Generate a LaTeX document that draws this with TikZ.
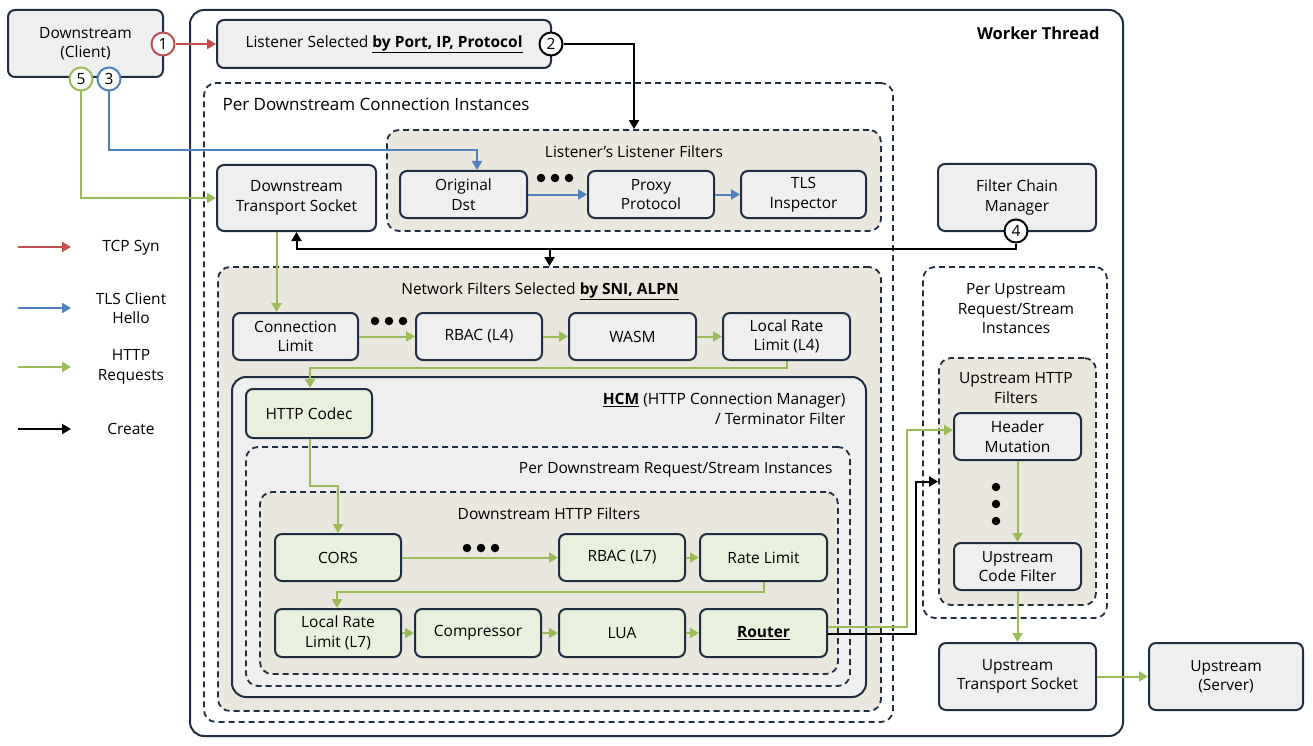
\documentclass[tikz,border=0pt]{standalone}
\usepackage{fontspec}
\setmainfont{Open Sans}
\usetikzlibrary{arrows.meta,calc}
\definecolor{navy}{HTML}{1F2E40}
\definecolor{beige}{HTML}{EAE7DE}
\definecolor{lgray}{HTML}{EFEFEF}
\definecolor{lgreen}{HTML}{EAF0DE}
\definecolor{cred}{HTML}{C0504D}
\definecolor{cblue}{HTML}{4F81BD}
\definecolor{cgreen}{HTML}{9BBB59}
\newcommand\mybox[7]{\node[#1, minimum width={#5-#3}, minimum height={#6-#4}] (#2) at ({(#3+#5)/2},{(#4+#6)/2}) {#7};}
\newcommand\bu[1]{\textbf{\underline{#1}}}
\begin{document}
\begin{tikzpicture}[x=1pt,y=-1pt,
  font=\fontsize{15.5}{19.5}\selectfont,
  box/.style={draw=navy, line width=2pt, rounded corners=7pt, fill=lgray, align=center, inner sep=0pt},
  gbox/.style={box, fill=lgreen},
  cont/.style={draw=navy, line width=1.8pt, dash pattern=on 6pt off 4pt, rounded corners=12pt, inner sep=0pt},
  solidcont/.style={draw=navy, line width=2pt, rounded corners=14pt, inner sep=0pt},
  circ/.style={circle, draw, line width=2pt, fill=white, minimum size=23pt, inner sep=0pt},
  arr/.style={line width=2pt, -{Triangle[length=9pt,width=10pt]}},
  redarr/.style={arr, draw=cred},
  bluearr/.style={arr, draw=cblue},
  grarr/.style={arr, draw=cgreen},
  blkarr/.style={arr, draw=black},
  dot/.style={circle, fill=black, minimum size=8.5pt, inner sep=0pt}
]
\useasboundingbox (0,0) rectangle (1313,746);

% containers
\mybox{solidcont}{wt}{190}{10}{1123}{736}{}
\node[anchor=east, font=\fontsize{16.5}{18}\selectfont\bfseries] (wtl) at (1103,33) {Worker Thread};
\mybox{cont}{pdc}{204}{83}{893}{722}{}
\node[anchor=west, font=\fontsize{17}{20}\selectfont] (pdcl) at (219,104) {Per Downstream Connection Instances};
\mybox{cont, fill=beige}{llf}{387}{130}{881}{231}{}
\node (llfl) at (634,152) {Listener's Listener Filters};
\mybox{cont, fill=beige}{nf}{218}{267}{881}{711}{}
\node (nfl) at (540,291) {Network Filters Selected \bu{by SNI, ALPN}};
\mybox{solidcont, fill=lgray}{hcm}{232}{377}{866}{697}{}
\node[anchor=east, align=right] (hcml) at (849,409) {\bu{HCM} (HTTP Connection Manager)\\/ Terminator Filter};
\mybox{cont, fill=lgray}{pdr}{246}{447}{850}{686}{}
\node[anchor=east] (pdrl) at (836,470) {Per Downstream Request/Stream Instances};
\mybox{cont, fill=beige}{dhf}{260}{492}{838}{674}{}
\node (dhfl) at (549,514) {Downstream HTTP Filters};
\mybox{cont}{pur}{923}{267}{1107}{618}{}
\node[align=center] (purl) at (1016,309) {Per Upstream\\Request/Stream\\Instances};
\mybox{cont, fill=beige}{uhf}{939}{358}{1096}{605}{}
\node[align=center] (uhfl) at (1016,388) {Upstream HTTP\\Filters};

% boxes
\mybox{box}{ds}{8}{10}{163}{77}{Downstream\\(Client)}
\mybox{box}{ls}{217}{20}{551}{68}{Listener Selected \bu{by Port, IP, Protocol}}
\mybox{box}{od}{400}{171}{527}{218}{Original\\Dst}
\mybox{box}{pp}{588}{171}{714}{218}{Proxy\\Protocol}
\mybox{box}{tls}{741}{171}{866}{218}{TLS\\Inspector}
\mybox{box}{dts}{217}{165}{376}{231}{Downstream\\Transport Socket}
\mybox{box}{fcm}{938}{164}{1096}{231}{Filter Chain\\Manager}
\mybox{box}{cl}{233}{313}{358}{360}{Connection\\Limit}
\mybox{box}{rbac4}{416}{313}{542}{360}{RBAC (L4)}
\mybox{box}{wasm}{569}{313}{696}{360}{WASM}
\mybox{box}{lrl4}{723}{313}{850}{360}{Local Rate\\Limit (L4)}
\mybox{gbox}{codec}{246}{389}{372}{438}{HTTP Codec}
\mybox{gbox}{cors}{275}{534}{401}{581}{CORS}
\mybox{gbox}{rbac7}{559}{534}{685}{581}{RBAC (L7)}
\mybox{gbox}{rl}{700}{534}{827}{581}{Rate Limit}
\mybox{gbox}{lrl7}{275}{609}{401}{657}{Local Rate\\Limit (L7)}
\mybox{gbox}{comp}{415}{609}{541}{657}{Compressor}
\mybox{gbox}{lua}{559}{609}{685}{657}{LUA}
\mybox{gbox}{router}{700}{609}{827}{657}{\bu{Router}}
\mybox{box}{hm}{954}{413}{1081}{460}{Header\\Mutation}
\mybox{box}{ucf}{954}{543}{1081}{590}{Upstream\\Code Filter}
\mybox{box}{uts}{939}{643}{1096}{710}{Upstream\\Transport Socket}
\mybox{box}{srv}{1149}{643}{1303}{710}{Upstream\\(Server)}

% dots
\node[dot] (d1) at (541,178) {}; \node[dot] (d2) at (555,178) {}; \node[dot] (d3) at (569,178) {};
\node[dot] (d4) at (375,321) {}; \node[dot] (d5) at (389,321) {}; \node[dot] (d6) at (403,321) {};
\node[dot] (d7) at (467,548) {}; \node[dot] (d8) at (481,548) {}; \node[dot] (d9) at (495,548) {};
\node[dot] (d10) at (996,487) {}; \node[dot] (d11) at (996,504) {}; \node[dot] (d12) at (996,521) {};

% circles
\node[circ, draw=cred] (c1) at (163,44) {1};
\node[circ, draw=black] (c2) at (551,44) {2};
\node[circ, draw=cgreen] (c5) at (81,79) {5};
\node[circ, draw=cblue] (c3) at (109,79) {3};
\node[circ, draw=black] (c4) at (1016,231) {4};

% coordinates
\coordinate (kb) at (477,150);
\coordinate (kc) at (1016,249);
\coordinate (g1) at (310,368);
\coordinate (g2) at (310,486);
\coordinate (g3) at (337,592);
\coordinate (g4) at (907,430);
\coordinate (k2) at (916,481.5);

% connectors
\draw[redarr] (c1.east) -- (ls.west);
\draw[blkarr] (c2.east) -| (llf.north);
\draw[bluearr] (c3.south) |- (kb) -- (kb |- od.north);
\draw[grarr] (c5.south) |- (dts.west);
\draw[bluearr] (od.east) -- (pp.west);
\draw[bluearr] (pp.east) -- (tls.west);
\draw[blkarr] (c4.south) -- (kc) -| (dts.south);
\draw[blkarr] (nf.north |- kc) -- (nf.north);
\draw[grarr] ([xshift=-20pt]dts.south) -- ([xshift=-20pt]dts.south |- cl.north);
\draw[grarr] (cl.east) -- (rbac4.west);
\draw[grarr] (rbac4.east) -- (wasm.west);
\draw[grarr] (wasm.east) -- (lrl4.west);
\draw[grarr] (lrl4.south) |- (g1) -- (g1 |- codec.north);
\draw[grarr] (g2 |- codec.south) -- (g2) -| (cors.north);
\draw[grarr] (cors.east) -- (rbac7.west);
\draw[grarr] (rbac7.east) -- (rl.west);
\draw[grarr] (rl.south) |- (g3) -- (g3 |- lrl7.north);
\draw[grarr] (lrl7.east) -- (comp.west);
\draw[grarr] (comp.east) -- (lua.west);
\draw[grarr] (lua.east) -- (router.west);
\draw[grarr] ([yshift=6pt]router.east) -| (g4) -- (g4 -| hm.west);
\draw[blkarr] ([yshift=-1pt]router.east) -| (k2) -- (uhf.west);
\draw[grarr] (hm.south) -- (ucf.north);
\draw[grarr] (ucf.south) -- (ucf.south |- uts.north);
\draw[grarr] (uts.east) -- (srv.west);

% legend
\coordinate (l1a) at (18,247); \coordinate (l1b) at (71,247);
\coordinate (l2a) at (18,308); \coordinate (l2b) at (71,308);
\coordinate (l3a) at (18,367); \coordinate (l3b) at (71,367);
\coordinate (l4a) at (18,429); \coordinate (l4b) at (71,429);
\draw[redarr] (l1a) -- (l1b);
\draw[bluearr] (l2a) -- (l2b);
\draw[grarr] (l3a) -- (l3b);
\draw[blkarr] (l4a) -- (l4b);
\node (t1) at (131,248) {TCP Syn};
\node[align=center] (t2) at (131,308) {TLS Client\\Hello};
\node[align=center] (t3) at (131,367) {HTTP\\Requests};
\node (t4) at (131,429) {Create};
\end{tikzpicture}
\end{document}
